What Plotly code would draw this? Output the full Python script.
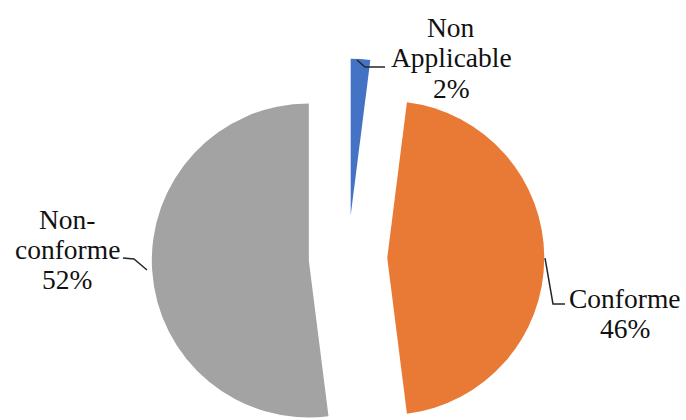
import math
import plotly.graph_objects as go

# Data
labels = ['Non Applicable', 'Conforme', 'Non-conforme']
values = [2, 46, 52]
colors = ['#4472C4', '#E97A35', '#A3A3A3']
pulls = [0.27, 0.25, 0.25]  # explosion, as a fraction of the radius

# how each label is broken across lines (last line is the percentage)
label_lines = [['Non', 'Applicable'], ['Conforme'], ['Non-', 'conforme']]

W, H = 686, 420
CX, CY, R = 348, 258, 157  # pie centre and radius in pixels

# label anchor (centre x, first baseline y) and leader lines, in pixels
label_pos = [(451, 37), (625, 307), (67, 228)]
leaders = [
    [(357, 60), (365, 67), (385, 67)],
    [(545, 258), (553, 304), (565, 304)],
    [(123, 258), (134, 259), (147, 270)],
]
LINE_STEP = 30
FONT = dict(family='Liberation Serif, Times New Roman, serif', size=27.5, color='#111111')


def px(x, y):
    return x / W, 1 - y / H


fig = go.Figure()
total = sum(values)
start = 0
for i, val in enumerate(values):
    # each slice gets its own trace so it can be shifted (exploded) on its own
    mid = math.radians((start + val / 2) / total * 360)
    start += val
    cx = CX + pulls[i] * R * math.sin(mid)
    cy = CY - pulls[i] * R * math.cos(mid)
    slice_colors = [c if j == i else 'rgba(0,0,0,0)' for j, c in enumerate(colors)]
    fig.add_trace(go.Pie(
        labels=labels,
        values=values,
        sort=False,
        direction='clockwise',
        rotation=0,
        marker=dict(colors=slice_colors, line=dict(width=0)),
        textinfo='none',
        showlegend=False,
        hoverinfo='label+percent',
        domain=dict(x=[(cx - R) / W, (cx + R) / W],
                    y=[(H - cy - R) / H, (H - cy + R) / H]),
    ))

# labels: one annotation per line to keep the tight line spacing
annotations = []
for lines, val, (lx, ly) in zip(label_lines, values, label_pos):
    texts = lines + [f'{val / total * 100:.0f}%']
    for k, t in enumerate(texts):
        x, y = px(lx, ly + k * LINE_STEP - 9)
        annotations.append(dict(x=x, y=y, xref='paper', yref='paper', text=t,
                                showarrow=False, xanchor='center', yanchor='middle',
                                font=FONT))

shapes = []
for pts in leaders:
    p = [px(x, y) for x, y in pts]
    path = 'M ' + ' L '.join(f'{x:.4f},{y:.4f}' for x, y in p)
    shapes.append(dict(type='path', path=path, xref='paper', yref='paper',
                       line=dict(color='#262626', width=1.5)))

fig.update_layout(
    width=W,
    height=H,
    margin=dict(l=0, r=0, t=0, b=0),
    paper_bgcolor='white',
    plot_bgcolor='white',
    annotations=annotations,
    shapes=shapes,
)

# drop the page's default body margin so the figure sits at the window corner
fig.write_html('out.html', config={'displayModeBar': False},
               post_script="document.body.style.margin='0';")
